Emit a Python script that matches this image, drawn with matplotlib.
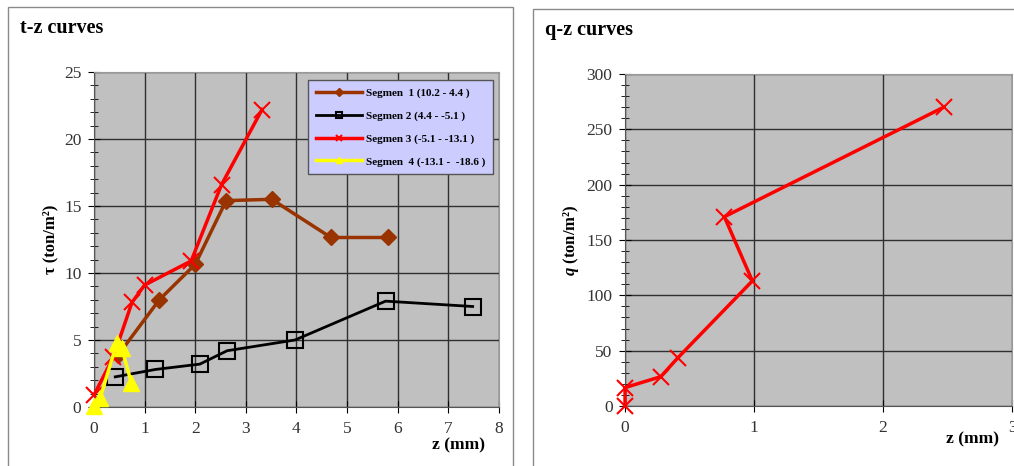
import numpy as np
import matplotlib.pyplot as plt
from matplotlib.patches import Rectangle
from matplotlib.ticker import MultipleLocator

# t-z data
seg1_z = [0.48, 1.29, 2.0, 2.61, 3.51, 4.68, 5.80]
seg1_t = [3.9, 8.0, 10.65, 15.4, 15.5, 12.65, 12.65]
seg2_z = [0.42, 1.21, 2.09, 2.63, 3.97, 5.76, 7.48]
seg2_t = [2.25, 2.8, 3.2, 4.2, 5.0, 7.9, 7.5]
seg3_z = [0.0, 0.38, 0.75, 1.0, 1.92, 2.52, 3.32]
seg3_t = [0.9, 3.7, 7.8, 9.1, 10.9, 16.6, 22.2]
seg4_z = [0.0, 0.12, 0.45, 0.55, 0.74]
seg4_t = [0.1, 0.65, 4.75, 4.38, 1.77]
seg_labels = ['Segmen  1 (10.2 - 4.4 )', 'Segmen 2 (4.4 - -5.1 )',
              'Segmen 3 (-5.1 - -13.1 )', 'Segmen  4 (-13.1 -  -18.6 )']

# q-z data
q_z = [0.0, 0.0, 0.277, 0.41, 0.987, 0.77, 2.47]
q_q = [0.0, 16.6, 26.5, 43.6, 113.0, 171.0, 270.0]

plt.rcParams['font.family'] = ['Liberation Serif', 'DejaVu Serif']
plt.rcParams['mathtext.fontset'] = 'custom'
plt.rcParams['mathtext.it'] = 'Liberation Serif:bold:italic'

fig = plt.figure(figsize=(10.14, 4.66), dpi=100)

# panel frames
fig.patches.append(Rectangle((0.0079, -0.05), 0.498, 1.035, transform=fig.transFigure,
                             fill=False, edgecolor='#8a8a8a', lw=1))
fig.patches.append(Rectangle((0.5256, -0.05), 0.6, 1.031, transform=fig.transFigure,
                             fill=False, edgecolor='#8a8a8a', lw=1))


def style_axes(ax, xmax, ymax, ymajor, yminor):
    ax.set_facecolor('#c0c0c0')
    ax.set_xlim(0, xmax)
    ax.set_ylim(0, ymax)
    ax.xaxis.set_major_locator(MultipleLocator(1))
    ax.yaxis.set_major_locator(MultipleLocator(ymajor))
    ax.yaxis.set_minor_locator(MultipleLocator(yminor))
    ax.grid(True, which='major', color='#303030', lw=1)
    ax.set_axisbelow(True)
    ax.tick_params(axis='both', which='major', direction='inout', length=8,
                   labelsize=12.5, colors='black', labelcolor='#333333')
    ax.tick_params(axis='y', which='minor', direction='inout', length=6)
    ax.tick_params(axis='x', pad=6)
    ax.tick_params(axis='y', pad=5)
    for s in ['top', 'right']:
        ax.spines[s].set_color('#9a9a9a')
    for s in ['left', 'bottom']:
        ax.spines[s].set_color('#555555')


# left: t-z curves
ax1 = fig.add_axes([0.0927, 0.1266, 0.3994, 0.7189])
style_axes(ax1, 8, 25, 5, 1)
ax1.plot(seg1_z, seg1_t, color='#993300', lw=2.5, marker='D', ms=8, label=seg_labels[0],
         zorder=3, clip_on=False)
ax1.plot(seg2_z, seg2_t, color='black', lw=2, marker='s', ms=11, mfc='none', mew=1.5,
         label=seg_labels[1], zorder=3, clip_on=False)
ax1.plot(seg3_z, seg3_t, color='#ff0000', lw=2.5, marker='x', ms=11, mew=1.5, label=seg_labels[2],
         zorder=4, clip_on=False)
ax1.plot(seg4_z, seg4_t, color='#ffff00', lw=2.5, marker='^', ms=11, label=seg_labels[3],
         zorder=5, clip_on=False)
ax1.set_ylabel('τ (ton/m²)', fontsize=12, fontweight='bold', labelpad=4)
ax1.text(7.73, -2.85, 'z (mm)', fontsize=12.5, fontweight='bold', ha='right', va='center')
leg = ax1.legend(loc='upper right', bbox_to_anchor=(0.985, 0.975), markerscale=0.45,
                 prop={'weight': 'bold', 'size': 8}, frameon=True, fancybox=False,
                 facecolor='#ccccff', edgecolor='#555555', framealpha=1,
                 handlelength=4.2, handletextpad=0.3, labelspacing=1.15,
                 borderpad=0.7, borderaxespad=0)
leg.get_frame().set_linewidth(1)
fig.text(0.02, 0.94, 't-z curves', fontsize=14.5, fontweight='bold', va='center')

# right: q-z curves
ax2 = fig.add_axes([0.6164, 0.1288, 0.3817, 0.7124])
style_axes(ax2, 3, 300, 50, 10)
ax2.plot(q_z, q_q, color='#ff0000', lw=2.5, marker='x', ms=11, mew=1.5, zorder=3, clip_on=False)
ax2.set_ylabel('$q$ (ton/m²)', fontsize=12, fontweight='bold', labelpad=4)
ax2.text(2.9, -30, 'z (mm)', fontsize=12.5, fontweight='bold', ha='right', va='center')
fig.text(0.537, 0.935, 'q-z curves', fontsize=14.5, fontweight='bold', va='center')

fig.savefig('out.png', dpi=100)
